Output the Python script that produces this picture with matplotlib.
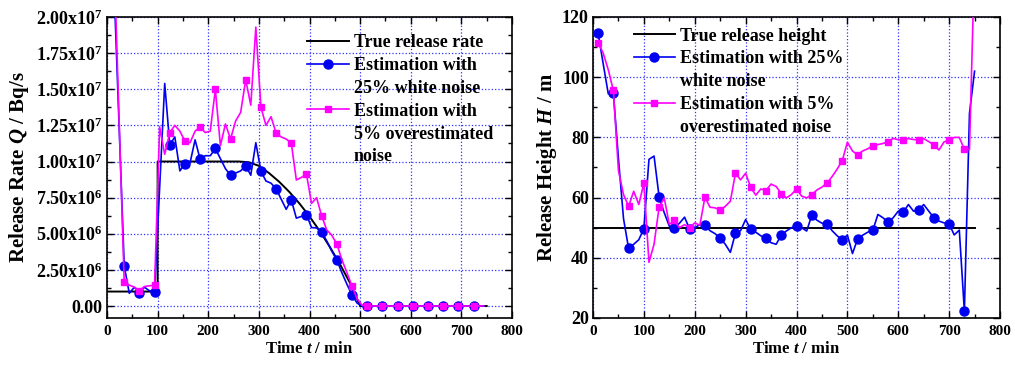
import matplotlib
matplotlib.use("Agg")
import numpy as np
import matplotlib.pyplot as plt
from matplotlib.lines import Line2D
from matplotlib.ticker import MultipleLocator, FuncFormatter

plt.rcParams['font.family'] = ['Liberation Serif', 'DejaVu Serif']
plt.rcParams['font.weight'] = 'bold'
plt.rcParams['axes.labelweight'] = 'bold'
plt.rcParams['mathtext.fontset'] = 'custom'
plt.rcParams['mathtext.rm'] = 'Liberation Serif:bold'
plt.rcParams['mathtext.bf'] = 'Liberation Serif:bold'
plt.rcParams['mathtext.it'] = 'Liberation Serif:bold:italic'

# ---- left panel: release rate (units of 1e6 Bq/s) ----
t_rate = np.arange(4, 745, 10)
rate_white = [40, 22, 12.4, 2.78, 0.88, 1.3, 0.93, 1.3, 1.05, 1.0,
              8.2, 15.4, 11.16, 11.7, 9.35, 9.86, 9.9, 11.5, 10.14, 10.4,
              10.4, 10.9, 10.2, 9.5, 9.05, 9.2, 9.35, 9.7, 9.05, 11.3,
              9.33, 8.65, 8.5, 8.12, 7.4, 6.69, 7.35, 6.08, 6.2, 6.33,
              5.43, 5.4, 5.13, 4.5, 3.8, 3.19, 2.3, 1.5, 0.77, 0.2,
              0.0] + [0.0] * 24
rate_over = [45, 24, 12.8, 1.65, 1.45, 1.3, 1.07, 1.35, 1.4, 1.44,
             12.4, 10.5, 12.0, 12.5, 12.1, 11.4, 11.3, 12.1, 12.4, 12.0,
             12.1, 15.0, 11.1, 12.6, 11.55, 12.8, 13.4, 15.66, 13.9, 19.3,
             13.76, 12.5, 13.1, 11.97, 11.7, 11.55, 11.28, 8.72, 8.9, 9.13,
             7.1, 7.5, 6.23, 5.27, 4.9, 4.29, 3.2, 2.3, 1.38, 0.5,
             0.05] + [0.0] * 24
t_true = [0, 100, 100, 260, 280, 300, 320, 340, 360, 380, 400, 420, 440, 460, 480, 500, 750]
rate_true = [1, 1, 10, 10, 9.95, 9.7, 9.2, 8.6, 7.9, 7.1, 6.2, 5.2, 4.1, 2.9, 1.6, 0, 0]

# ---- right panel: release height (m) ----
t_h = np.arange(10, 751, 10)
h_white = [114.6, 104.5, 94.5, 94.8, 73, 53, 43.1, 44.5, 46, 49.7,
           72.7, 73.8, 60.2, 55, 50.5, 50, 51.5, 53.5, 49.5, 50,
           51, 50.8, 49, 48, 46.5, 44.5, 41.8, 48.2, 49, 52.7,
           49.5, 48.5, 47.3, 46.5, 45, 44.5, 47.5, 48.9, 50, 50.4,
           50, 48.9, 54.1, 52.5, 51.5, 51.3, 49, 47.3, 45.9, 47.6,
           41.4, 46.2, 47.5, 48.5, 49.1, 54.4, 53.3, 51.8, 53.3, 55.5,
           55.2, 57.7, 55.5, 55.8, 57.7, 55.5, 53.3, 52.2, 51.6, 51.3,
           47.6, 49.2, 22.2, 88, 102]
h_over = [111.5, 108, 102.5, 95.6, 69, 61, 57.1, 62.1, 57.7, 64.8,
          38.5, 44.5, 56.9, 59.9, 51.1, 52.4, 50, 51, 50, 51.6,
          50.8, 60.1, 56.8, 56.6, 55.8, 57.1, 58.8, 68.1, 65.9, 68.1,
          63.4, 60.8, 62.9, 62.3, 64.5, 63.7, 61.3, 59.9, 61.0, 62.9,
          60.5, 59.9, 61.0, 62.5, 63.5, 64.8, 67, 69.5, 72.3, 78.4,
          75.5, 74.2, 75.5, 76.2, 77.3, 77.6, 78, 78.5, 79.7, 79.2,
          79.1, 79.6, 79.3, 79.1, 79.6, 78.6, 77.5, 75.8, 78.5, 79.1,
          80, 80, 76.0, 76, 139]
t_htrue = [0, 750]
h_true = [50, 50]

BLUE = '#0000f0'
PINK = '#ff00ff'
GRID = '#3030ff'
LW = 1.2

fig = plt.figure(figsize=(10.15, 3.67), dpi=100)
ax1 = fig.add_axes([107 / 1015, 1 - 318 / 367, 405 / 1015, 301 / 367])
ax2 = fig.add_axes([593 / 1015, 1 - 318 / 367, 407 / 1015, 301 / 367])

s = 1e6
ax1.plot(t_true, np.array(rate_true) * s, color='black', lw=1.4, zorder=3)
ax1.plot(t_rate, np.array(rate_white) * s, color=BLUE, lw=LW, marker='o', ms=6.5,
         markevery=slice(3, None, 3), zorder=4)
ax1.plot(t_rate, np.array(rate_over) * s, color=PINK, lw=LW, marker='s', ms=4.8,
         markevery=slice(3, None, 3), zorder=5)

ax2.plot(t_htrue, h_true, color='black', lw=1.4, zorder=3)
ax2.plot(t_h, h_white, color=BLUE, lw=LW, marker='o', ms=6.5,
         markevery=slice(0, None, 3), zorder=4)
ax2.plot(t_h, h_over, color=PINK, lw=LW, marker='s', ms=4.8,
         markevery=slice(0, None, 3), zorder=5)


def sci(v, pos):
    if abs(v) < 1:
        return '0.00'
    e = int(np.floor(np.log10(abs(v))))
    return '%.2fx10$^{%d}$' % (v / 10 ** e, e)


ax1.set_xlim(0, 800)
ax1.set_ylim(-0.83e6, 2.0e7)
ax1.yaxis.set_major_locator(MultipleLocator(2.5e6))
ax1.yaxis.set_minor_locator(MultipleLocator(1.25e6))
ax1.yaxis.set_major_formatter(FuncFormatter(sci))
ax1.set_ylabel(r'Release Rate $Q$ / Bq/s', fontsize=15, labelpad=4)

ax2.set_xlim(0, 800)
ax2.set_ylim(20, 120)
ax2.yaxis.set_major_locator(MultipleLocator(20))
ax2.yaxis.set_minor_locator(MultipleLocator(10))
ax2.set_ylabel(r'Release Height $H$ / m', fontsize=15, labelpad=2)

for ax in (ax1, ax2):
    ax.xaxis.set_major_locator(MultipleLocator(100))
    ax.xaxis.set_minor_locator(MultipleLocator(50))
    ax.set_xlabel(r'Time $t$ / min', fontsize=12, labelpad=2)
    ax.grid(True, which='major', color=GRID, ls=':', lw=0.9)
    ax.set_axisbelow(True)
    ax.tick_params(which='both', direction='in', top=True, right=True, width=1)
    ax.tick_params(which='major', length=5)
    ax.tick_params(which='minor', length=3)
    ax.tick_params(axis='x', labelsize=11, pad=5)
    ax.tick_params(axis='y', labelsize=13, pad=3)
    for sp in ax.spines.values():
        sp.set_linewidth(1.2)

blank = Line2D([], [], color='none')
h1 = [Line2D([], [], color='black', lw=1.4),
      Line2D([], [], color=BLUE, lw=LW, marker='o', ms=6.5),
      blank,
      Line2D([], [], color=PINK, lw=LW, marker='s', ms=4.8),
      blank, blank]
l1 = ['True release rate', 'Estimation with', '25% white noise',
      'Estimation with', '5% overestimated', 'noise']
ax1.legend(h1, l1, loc='upper left', bbox_to_anchor=(0.495, 0.942), frameon=False,
           fontsize=13, handlelength=2.3, handletextpad=0.25, labelspacing=0.32,
           borderpad=0, borderaxespad=0)

h2 = [Line2D([], [], color='black', lw=1.4),
      Line2D([], [], color=BLUE, lw=LW, marker='o', ms=6.5),
      blank,
      Line2D([], [], color=PINK, lw=LW, marker='s', ms=4.8),
      blank]
l2 = ['True release height', 'Estimation with 25%', 'white noise',
      'Estimation with 5%', 'overestimated noise']
ax2.legend(h2, l2, loc='upper left', bbox_to_anchor=(0.1, 0.965), frameon=False,
           fontsize=13, handlelength=2.3, handletextpad=0.25, labelspacing=0.32,
           borderpad=0, borderaxespad=0)

fig.savefig('out.png', dpi=100)
